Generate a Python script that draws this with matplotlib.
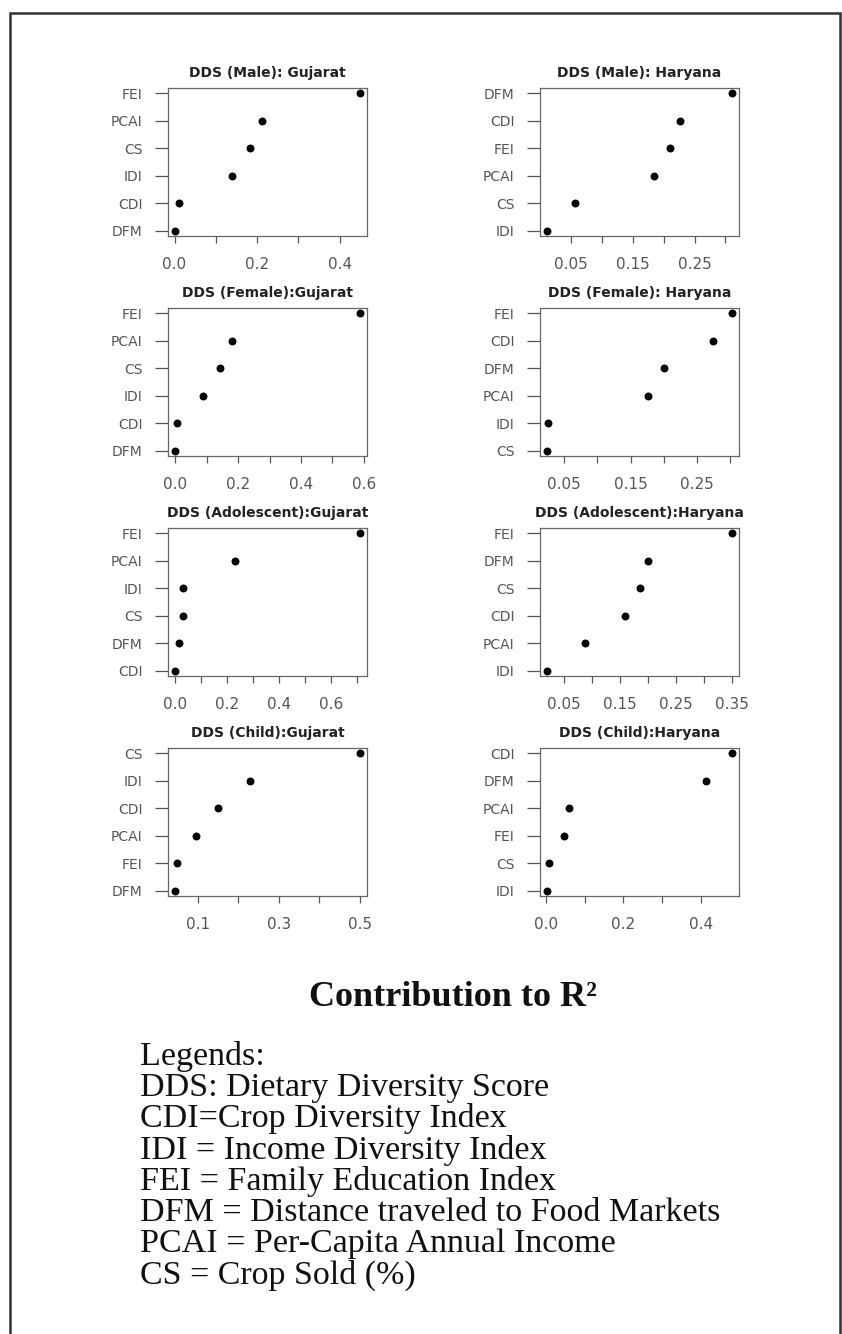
import matplotlib.pyplot as plt
from matplotlib.patches import Rectangle

# panel titles, left column Gujarat, right column Haryana
titles = ["DDS (Male): Gujarat", "DDS (Male): Haryana",
          "DDS (Female):Gujarat", "DDS (Female): Haryana",
          "DDS (Adolescent):Gujarat", "DDS (Adolescent):Haryana",
          "DDS (Child):Gujarat", "DDS (Child):Haryana"]

# categories listed top to bottom, with contribution to R2
male_guj_cats = ["FEI", "PCAI", "CS", "IDI", "CDI", "DFM"]
male_guj_vals = [0.448, 0.211, 0.182, 0.140, 0.011, 0.002]
male_har_cats = ["DFM", "CDI", "FEI", "PCAI", "CS", "IDI"]
male_har_vals = [0.310, 0.226, 0.210, 0.184, 0.057, 0.012]

fem_guj_cats = ["FEI", "PCAI", "CS", "IDI", "CDI", "DFM"]
fem_guj_vals = [0.587, 0.181, 0.141, 0.087, 0.005, 0.000]
fem_har_cats = ["FEI", "CDI", "DFM", "PCAI", "IDI", "CS"]
fem_har_vals = [0.302, 0.274, 0.201, 0.176, 0.026, 0.025]

ado_guj_cats = ["FEI", "PCAI", "IDI", "CS", "DFM", "CDI"]
ado_guj_vals = [0.709, 0.231, 0.030, 0.029, 0.013, 0.000]
ado_har_cats = ["FEI", "DFM", "CS", "CDI", "PCAI", "IDI"]
ado_har_vals = [0.349, 0.200, 0.185, 0.160, 0.088, 0.021]

child_guj_cats = ["CS", "IDI", "CDI", "PCAI", "FEI", "DFM"]
child_guj_vals = [0.500, 0.229, 0.150, 0.097, 0.049, 0.045]
child_har_cats = ["CDI", "DFM", "PCAI", "FEI", "CS", "IDI"]
child_har_vals = [0.480, 0.413, 0.060, 0.046, 0.007, 0.004]

# x ticks and their labels (R skips some labels)
ticks_a = [0.0, 0.1, 0.2, 0.3, 0.4]
labels_a = ["0.0", "", "0.2", "", "0.4"]
ticks_b = [0.05, 0.10, 0.15, 0.20, 0.25, 0.30]
labels_b = ["0.05", "", "0.15", "", "0.25", ""]
ticks_c = [0.0, 0.1, 0.2, 0.3, 0.4, 0.5, 0.6]
labels_c = ["0.0", "", "0.2", "", "0.4", "", "0.6"]
ticks_d = [0.0, 0.1, 0.2, 0.3, 0.4, 0.5, 0.6, 0.7]
labels_d = ["0.0", "", "0.2", "", "0.4", "", "0.6", ""]
ticks_e = [0.05, 0.10, 0.15, 0.20, 0.25, 0.30, 0.35]
labels_e = ["0.05", "", "0.15", "", "0.25", "", "0.35"]
ticks_f = [0.1, 0.2, 0.3, 0.4, 0.5]
labels_f = ["0.1", "", "0.3", "", "0.5"]

legend_lines = ["Legends:",
                "DDS: Dietary Diversity Score",
                "CDI=Crop Diversity Index",
                "IDI = Income Diversity Index",
                "FEI = Family Education Index",
                "DFM = Distance traveled to Food Markets",
                "PCAI = Per-Capita Annual Income",
                "CS = Crop Sold (%)"]

panels = [
    (male_guj_cats, male_guj_vals, ticks_a, labels_a),
    (male_har_cats, male_har_vals, ticks_b, labels_b),
    (fem_guj_cats, fem_guj_vals, ticks_c, labels_c),
    (fem_har_cats, fem_har_vals, ticks_b, labels_b),
    (ado_guj_cats, ado_guj_vals, ticks_d, labels_d),
    (ado_har_cats, ado_har_vals, ticks_e, labels_e),
    (child_guj_cats, child_guj_vals, ticks_f, labels_f),
    (child_har_cats, child_har_vals, ticks_a, labels_a),
]

W, H = 842, 1334
fig = plt.figure(figsize=(W / 100, H / 100), dpi=100)

# outer frame
fig.patches.append(Rectangle((10 / W, -0.01), 830 / W, 1 - 13 / H + 0.01,
                             transform=fig.transFigure, fill=False,
                             edgecolor='#333333', lw=1.8))

col_left = [168, 540]
box_w = 199
box_h = 148
for i, (cats, vals, ticks, labels) in enumerate(panels):
    row, col = divmod(i, 2)
    bottom = 236 + 220 * row
    ax = fig.add_axes([col_left[col] / W, 1 - bottom / H, box_w / W, box_h / H])
    n = len(cats)
    ypos = [n - 1 - k for k in range(n)]
    ax.plot(vals, ypos, 'o', color='black', ms=4.7)
    lo, hi = min(vals), max(vals)
    pad = 0.04 * (hi - lo)
    ax.set_xlim(lo - pad, hi + pad)
    ax.set_ylim(-0.2, n - 1 + 0.2)
    ax.set_yticks(ypos)
    ax.set_yticklabels(cats)
    ax.set_xticks(ticks)
    ax.set_xticklabels(labels)
    ax.tick_params(axis='x', length=5, width=0.9, pad=10, labelsize=11,
                   color='#555555', labelcolor='#555555')
    ax.tick_params(axis='y', length=9.5, width=0.9, pad=9, labelsize=10,
                   color='#555555', labelcolor='#555555')
    for s in ax.spines.values():
        s.set_color('#666666')
        s.set_linewidth(0.9)
    ax.set_title(titles[i], fontsize=10, fontweight='bold', color='#222222', pad=8)

fig.text(453 / W, 1 - 997 / H, "Contribution to R²", ha='center', va='center',
         family='Liberation Serif', weight='bold', size=26, color='#111111')

y0 = 1065
for k, line in enumerate(legend_lines):
    fig.text(140 / W, 1 - (y0 + 31.2 * k) / H, line, ha='left', va='baseline',
             family='Liberation Serif', size=24.5, color='#111111')

plt.savefig('out.png', dpi=100)
